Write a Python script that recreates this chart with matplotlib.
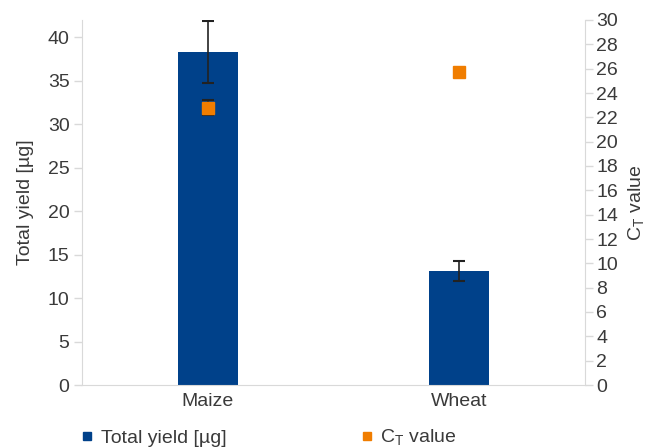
import matplotlib.pyplot as plt
import numpy as np

plt.rcParams['font.family'] = ['Liberation Sans', 'DejaVu Sans']

categories = ['Maize', 'Wheat']
total_yield = [38.3, 13.1]
yield_err = [3.6, 1.15]
ct_value = [22.8, 25.7]
ct_err = [0.6, 0.2]

blue = '#00418a'
orange = '#f07d00'
grey = '#d9d9d9'
txt = '#3a3a3a'

fig = plt.figure(figsize=(6.52, 4.47), dpi=100)
ax = fig.add_axes([82 / 652, 62 / 447, 503 / 652, 365 / 447])
ax2 = ax.twinx()

x = np.arange(len(categories))
ax.bar(x, total_yield, width=0.24, color=blue, zorder=2)
ax.errorbar(x, total_yield, yerr=yield_err, fmt='none', ecolor='#222222',
            elinewidth=1.2, capsize=4, capthick=1.5, zorder=3)

ax2.errorbar(x, ct_value, yerr=ct_err, fmt='none', ecolor='#222222',
             elinewidth=1.2, capsize=4, capthick=1.5, zorder=3)
ax2.plot(x, ct_value, 's', color=orange, markersize=8, linestyle='none', zorder=4)

ax.set_xlim(-0.5, 1.5)
ax.set_ylim(0, 42)
ax2.set_ylim(0, 30)
ax.set_yticks(np.arange(0, 41, 5))
ax2.set_yticks(np.arange(0, 31, 2))
ax.set_xticks(x)
ax.set_xticklabels(categories)

for a in (ax, ax2):
    for s in a.spines.values():
        s.set_visible(False)
    a.tick_params(colors=grey, labelcolor=txt, labelsize=14, length=6, width=1)
ax.spines['left'].set_visible(True)
ax.spines['bottom'].set_visible(True)
ax2.spines['right'].set_visible(True)
ax.spines['left'].set_color(grey)
ax.spines['bottom'].set_color(grey)
ax2.spines['right'].set_color(grey)
ax.tick_params(axis='x', length=0, pad=6)
ax.tick_params(axis='y', pad=3)
ax2.tick_params(axis='y', pad=2)

ax.set_ylabel('Total yield [µg]', fontsize=14, color=txt, labelpad=10)
ax2.set_ylabel('C$_\\mathregular{T}$ value', fontsize=14, color=txt, labelpad=6)

handles = [
    plt.Line2D([], [], marker='s', color=blue, linestyle='none', markersize=6),
    plt.Line2D([], [], marker='s', color=orange, linestyle='none', markersize=6),
]
fig.legend(handles, ['Total yield [µg]', 'C$_\\mathregular{T}$ value'],
           loc='lower left', bbox_to_anchor=(62 / 652, -19 / 447), ncol=2,
           frameon=False, fontsize=14, handlelength=0.8, handletextpad=0.3,
           columnspacing=6.8, labelcolor=txt)

fig.savefig('out.png', dpi=100)
